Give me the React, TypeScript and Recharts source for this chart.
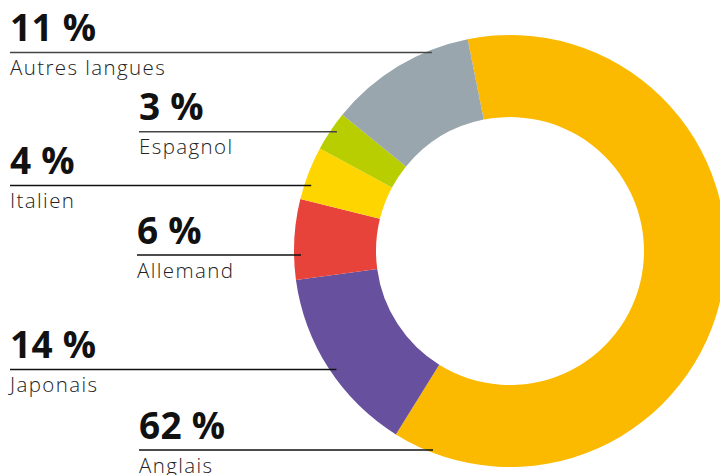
import React from "react";
import { PieChart, Pie, Cell } from "recharts";

const languages = ["Anglais", "Japonais", "Allemand", "Italien", "Espagnol", "Autres langues"];
const shares = [62, 14, 6, 4, 3, 11];
const colors = ["#FBBA00", "#67519E", "#E8433A", "#FFD500", "#B8CE00", "#9AA6AE"];

// label layout (left x of texts, y of the leader line)
const labelX = [139, 10, 137, 10, 139, 10];
const labelLineY = [450, 369.5, 255, 185.5, 131.7, 52.5];
const lineColors = ["#111", "#111", "#111", "#111", "#444", "#444"];

const data = languages.map((name, i) => ({ name, value: shares[i] }));

const renderLabel = (props: any) => {
  const { cx, cy, outerRadius, index } = props;
  const x = labelX[index];
  const ly = labelLineY[index];
  const dy = ly - cy;
  const dx = Math.sqrt(Math.max(outerRadius * outerRadius - dy * dy, 0));
  const endX = cx - dx + 7;
  return (
    <g key={`lbl-${index}`}>
      <text
        x={x}
        y={ly - 11.5}
        fontFamily="'Open Sans', sans-serif"
        fontWeight={700}
        fontSize={37}
        letterSpacing={0.3}
        fill="#111"
      >
        {`${shares[index]} %`}
      </text>
      <line x1={x} y1={ly} x2={endX} y2={ly} stroke={lineColors[index]} strokeWidth={1.5} />
      <text
        x={x}
        y={ly + 22.5}
        fontFamily="'Open Sans', sans-serif"
        fontWeight={300}
        fontSize={20.5}
        letterSpacing={1.4}
        fill="#222"
      >
        {languages[index]}
      </text>
    </g>
  );
};

export default function App() {
  return (
    <div style={{ position: "absolute", left: 0, top: 0, width: 720, height: 475, background: "#fff" }}>
      <PieChart width={720} height={475} margin={{ top: 0, right: 0, bottom: 0, left: 0 }}>
        <Pie
          data={data}
          dataKey="value"
          nameKey="name"
          cx={510}
          cy={251}
          innerRadius={134}
          outerRadius={216}
          startAngle={101.3}
          endAngle={-258.7}
          stroke="none"
          label={renderLabel}
          labelLine={false}
          isAnimationActive={false}
        >
          {data.map((d, i) => (
            <Cell key={d.name} fill={colors[i]} />
          ))}
        </Pie>
      </PieChart>
    </div>
  );
}
